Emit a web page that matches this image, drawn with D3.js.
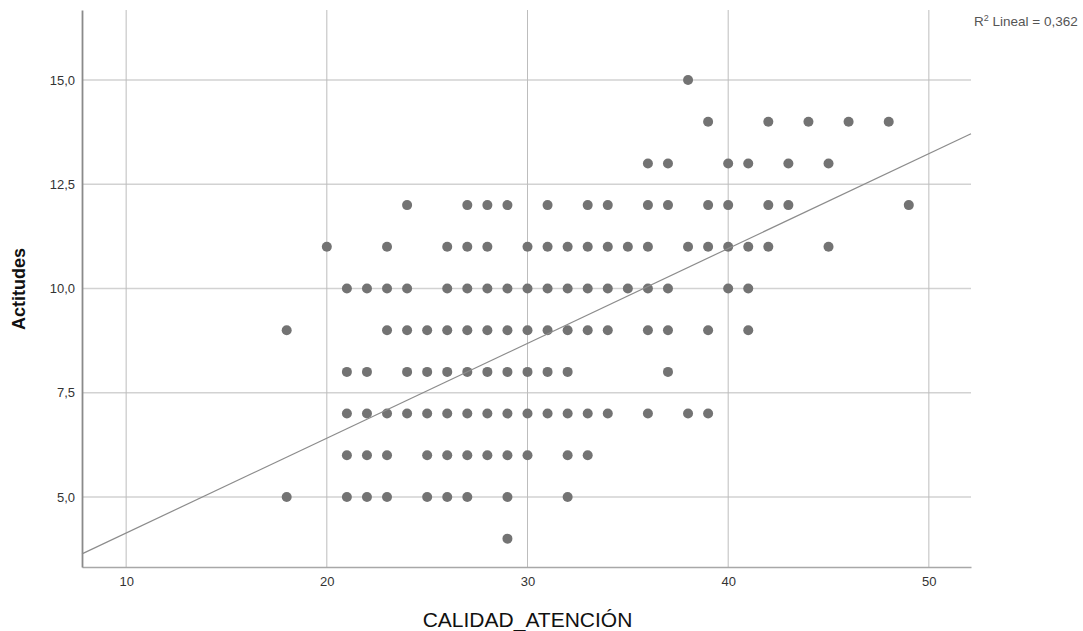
<!DOCTYPE html>
<html>
<head>
<meta charset="utf-8">
<script src="https://cdn.jsdelivr.net/npm/d3@7"></script>
<style>
  body { margin: 0; background: #fff; }
  svg { font-family: "Liberation Sans", Arial, sans-serif; }
  .tick_lbl { font-size: 13px; fill: #333; }
</style>
</head>
<body>
<div id="viz"></div>
<script>
// one array per Actitudes value: the CALIDAD_ATENCIÓN scores seen on that row
let y_levels = [15, 14, 13, 12, 11, 10, 9, 8, 7, 6, 5, 4];
let x_by_level = [
    [38],
    [39, 42, 44, 46, 48],
    [36, 37, 40, 41, 43, 45],
    [24, 27, 28, 29, 31, 33, 34, 36, 37, 39, 40, 42, 43, 49],
    [20, 23, 26, 27, 28, 30, 31, 32, 33, 34, 35, 36, 38, 39, 40, 41, 42, 45],
    [21, 22, 23, 24, 26, 27, 28, 29, 30, 31, 32, 33, 34, 35, 36, 37, 40, 41],
    [18, 23, 24, 25, 26, 27, 28, 29, 30, 31, 32, 33, 34, 36, 37, 39, 41],
    [21, 22, 24, 25, 26, 27, 28, 29, 30, 31, 32, 37],
    [21, 22, 23, 24, 25, 26, 27, 28, 29, 30, 31, 32, 33, 34, 36, 38, 39],
    [21, 22, 23, 25, 26, 27, 28, 29, 30, 32, 33],
    [18, 21, 22, 23, 25, 26, 27, 29, 32],
    [29]
];

let x_ticks = [10, 20, 30, 40, 50];
let y_ticks = [5, 7.5, 10, 12.5, 15];

// fit line
let fit_intercept = 1.86;
let fit_slope = 0.2275;
let r2_text = "0,362";

let width = 1083, height = 631;
let plot = {left: 82, right: 971, top: 10, bottom: 567};

let points = [];
y_levels.forEach(function(y, i){
    x_by_level[i].forEach(function(x){ points.push({x: x, y: y}); });
});

let x_scale = d3.scaleLinear().domain([7.8, 52.1]).range([plot.left, plot.right]);
let y_scale = d3.scaleLinear().domain([3.32, 16.68]).range([plot.bottom, plot.top]);

let svg = d3.select("#viz").append("svg")
    .attr("width", width)
    .attr("height", height);

// grid
svg.append("g")
    .selectAll("line")
    .data(y_ticks)
    .enter()
    .append("line")
    .attr("x1", plot.left)
    .attr("x2", plot.right)
    .attr("y1", function(d){ return y_scale(d); })
    .attr("y2", function(d){ return y_scale(d); })
    .attr("stroke", "#d2d2d2")
    .attr("stroke-width", 1.6);

svg.append("g")
    .selectAll("line")
    .data(x_ticks)
    .enter()
    .append("line")
    .attr("x1", function(d){ return x_scale(d); })
    .attr("x2", function(d){ return x_scale(d); })
    .attr("y1", plot.top)
    .attr("y2", plot.bottom)
    .attr("stroke", "#bdbdbd")
    .attr("stroke-width", 1);

// axes
let x_axis = d3.axisBottom(x_scale).tickValues(x_ticks).tickSize(0).tickPadding(10)
    .tickFormat(d3.format("d"));
let gx = svg.append("g")
    .attr("transform", "translate(0," + plot.bottom + ")")
    .call(x_axis);
gx.select(".domain").attr("stroke", "#a8a8a8").attr("stroke-width", 1.6);
gx.selectAll("text").attr("class", "tick_lbl").attr("font-family", null).attr("font-size", null).attr("fill", null);

let y_axis = d3.axisLeft(y_scale).tickValues(y_ticks).tickSize(0).tickPadding(7)
    .tickFormat(function(d){ return d.toFixed(1).replace(".", ","); });
let gy = svg.append("g")
    .attr("transform", "translate(" + plot.left + ",0)")
    .call(y_axis);
gy.select(".domain").attr("stroke", "#8a8a8a").attr("stroke-width", 1.8);
gy.selectAll("text").attr("class", "tick_lbl").attr("font-family", null).attr("font-size", null).attr("fill", null);

// points
svg.append("g")
    .selectAll("circle")
    .data(points)
    .enter()
    .append("circle")
    .attr("cx", function(d){ return x_scale(d.x); })
    .attr("cy", function(d){ return y_scale(d.y); })
    .attr("r", 5)
    .attr("fill", "#737373");

// fit line
let x_dom = x_scale.domain();
svg.append("line")
    .attr("x1", x_scale(x_dom[0]))
    .attr("y1", y_scale(fit_intercept + fit_slope*x_dom[0]))
    .attr("x2", x_scale(x_dom[1]))
    .attr("y2", y_scale(fit_intercept + fit_slope*x_dom[1]))
    .attr("stroke", "#8c8c8c")
    .attr("stroke-width", 1.2);

// labels
svg.append("text")
    .attr("x", (plot.left + plot.right)/2 + 1)
    .attr("y", 627)
    .attr("text-anchor", "middle")
    .attr("font-size", "21px")
    .attr("fill", "#111")
    .text("CALIDAD_ATENCIÓN");

svg.append("text")
    .attr("transform", "translate(25," + 289 + ") rotate(-90)")
    .attr("text-anchor", "middle")
    .attr("font-size", "18px")
    .attr("font-weight", "bold")
    .attr("fill", "#111")
    .text("Actitudes");

let r2 = svg.append("text")
    .attr("x", 974)
    .attr("y", 26)
    .attr("font-size", "13.5px")
    .attr("fill", "#555");
r2.append("tspan").text("R");
r2.append("tspan").attr("font-size", "9px").attr("dy", -5).text("2");
r2.append("tspan").attr("dy", 5).text(" Lineal = " + r2_text);
</script>
</body>
</html>
